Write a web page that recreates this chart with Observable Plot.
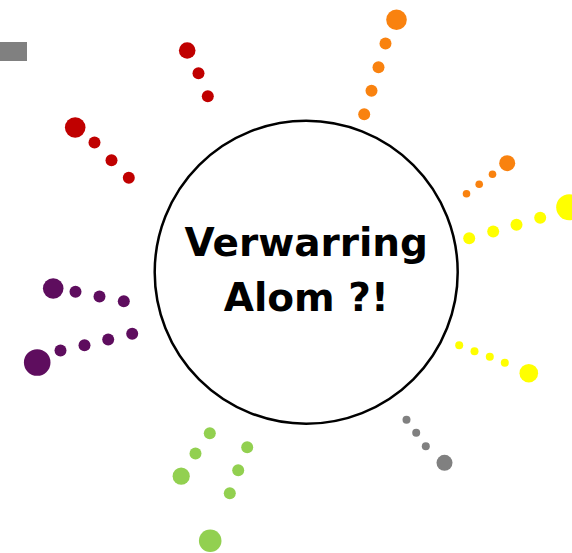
<!DOCTYPE html>
<html><head><meta charset="utf-8">
<script src="https://cdn.jsdelivr.net/npm/d3@7"></script>
<script src="https://cdn.jsdelivr.net/npm/@observablehq/plot@0.6"></script>
<style>body{margin:0;background:#fff;overflow:hidden}</style>
</head><body><div id="chart"></div>
<script>
// Ray data: positions (chart units) and dot radii
const redA_x = [186.7, 198, 207.3];
const redA_y = [50, 72.7, 95.7];
const redA_r = [8.3, 6, 6];
const redB_x = [74.7, 94, 111, 128.3];
const redB_y = [127, 142, 159.7, 177.3];
const redB_r = [10.3, 6, 6, 6];
const orangeA_x = [396, 385, 378, 371, 363.7];
const orangeA_y = [19.3, 43, 66.7, 90.3, 113.7];
const orangeA_r = [10.3, 6, 6, 6, 6];
const orangeB_x = [506.7, 492, 478.7, 466];
const orangeB_y = [162.7, 173.7, 183.7, 193.3];
const orangeB_r = [8, 3.8, 3.8, 3.8];
const yellowA_x = [568.7, 539.7, 516, 492.7, 468.7];
const yellowA_y = [206.7, 217.3, 224.3, 231, 237.7];
const yellowA_r = [13, 6, 6, 6, 6];
const yellowB_x = [458.7, 474, 489.3, 504.3, 528.3];
const yellowB_y = [344.7, 350.7, 356.3, 362.3, 372.7];
const yellowB_r = [4, 4, 4, 4, 9.3];
const gray_x = [406, 415.7, 425.3, 444];
const gray_y = [419.3, 432.3, 445.7, 462.3];
const gray_r = [4, 4, 4, 8];
const greenA_x = [209.3, 195, 180.7];
const greenA_y = [432.7, 453, 475.7];
const greenA_r = [6, 6, 8.6];
const greenB_x = [246.7, 237.7, 229.3, 209.7];
const greenB_y = [446.7, 469.7, 492.7, 540.3];
const greenB_r = [6, 6, 6, 11.3];
const purpleA_x = [52.7, 75, 99, 123.3];
const purpleA_y = [288, 291.3, 296, 300.7];
const purpleA_r = [10.3, 6, 6, 6];
const purpleB_x = [36.7, 60, 84, 107.7, 131.7];
const purpleB_y = [362, 350, 344.7, 339, 333.3];
const purpleB_r = [13.3, 6, 6, 6, 6];

const rayNames = ["redA","redB","orangeA","orangeB","yellowA","yellowB","gray","greenA","greenB","purpleA","purpleB"];
const rayColors = ["#C00000","#C00000","#F9820F","#F9820F","#FFFF00","#FFFF00","#808080","#92D050","#92D050","#5E0D5E","#5E0D5E"];
const rayXs = [redA_x, redB_x, orangeA_x, orangeB_x, yellowA_x, yellowB_x, gray_x, greenA_x, greenB_x, purpleA_x, purpleB_x];
const rayYs = [redA_y, redB_y, orangeA_y, orangeB_y, yellowA_y, yellowB_y, gray_y, greenA_y, greenB_y, purpleA_y, purpleB_y];
const rayRs = [redA_r, redB_r, orangeA_r, orangeB_r, yellowA_r, yellowB_r, gray_r, greenA_r, greenB_r, purpleA_r, purpleB_r];

// Central hub
const hubX = [305.7];
const hubY = [271.7];
const hubR = [151.5];
const titleLines = ["Verwarring", "Alom ?!"];
const titleBaselines = [255, 310];

// Gray box at top-left
const boxX1 = [0], boxX2 = [27], boxY1 = [42], boxY2 = [61];

const dots = rayNames.flatMap((name, i) =>
  rayXs[i].map((x, j) => ({ray: name, color: rayColors[i], x, y: rayYs[i][j], r: rayRs[i][j]}))
);
const hub = hubX.map((x, i) => ({x, y: hubY[i], r: hubR[i]}));
const titles = titleLines.map((t, i) => ({text: t, x: hubX[0], y: titleBaselines[i]}));
const boxes = boxX1.map((x1, i) => ({x1, x2: boxX2[i], y1: boxY1[i], y2: boxY2[i]}));

const chart = Plot.plot({
  width: 572,
  height: 553,
  margin: 0,
  style: {background: "#fff"},
  x: {domain: [0, 572], range: [0, 572], axis: null},
  y: {domain: [0, 553], range: [0, 553], axis: null},
  r: {type: "identity"},
  marks: [
    Plot.rect(boxes, {x1: "x1", x2: "x2", y1: "y1", y2: "y2", fill: "#808080"}),
    Plot.dot(hub, {x: "x", y: "y", r: "r", fill: "#fff", stroke: "#000", strokeWidth: 2.5}),
    Plot.dot(dots, {x: "x", y: "y", r: "r", fill: "color", stroke: "none"}),
    Plot.text(titles, {x: "x", y: "y", text: "text", lineAnchor: "bottom", textAnchor: "middle",
      fontSize: 39, fontWeight: "bold", fontFamily: "DejaVu Sans", fill: "#000"})
  ]
});
document.getElementById("chart").appendChild(chart);
</script>
</body></html>
